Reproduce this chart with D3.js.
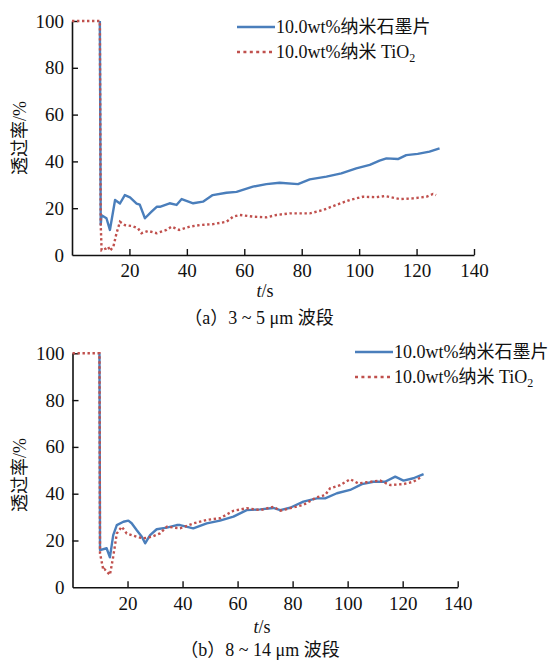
<!DOCTYPE html>
<html><head><meta charset="utf-8">
<script src="https://cdn.jsdelivr.net/npm/d3@7"></script>
<style>body{margin:0;background:#fff}svg{display:block}</style>
</head><body>
<script>
// ---- data ----
const xTicks = [20, 40, 60, 80, 100, 120, 140];
const yTicks = [0, 20, 40, 60, 80, 100];
const seriesNames = ["10.0wt%纳米石墨片", "10.0wt%纳米 TiO"];
const captions = ["（a）3 ~ 5 μm 波段", "（b）8 ~ 14 μm 波段"];

const aGraphT = [9.7,10.0,10.3,12,13.2,15,16.7,18.4,20.2,22.5,23.6,25.4,27.7,29.5,30.6,34,36.4,38.2,42.2,45.6,49,53.8,57.3,63,67.7,72.3,78.7,82.8,88.6,93.8,99,103.7,107.1,109.5,113.5,116.4,120.4,124.5,128];
const aGraphV = [100,13,17,15.7,10.7,23.5,22,25.6,24.6,22,21.5,15.7,18.5,20.6,20.6,22.1,21.4,23.9,22.1,22.8,25.6,26.6,27,29.2,30.3,30.9,30.3,32.3,33.5,34.9,37,38.5,40.3,41.3,41,42.7,43.2,44.2,45.6];
const aTiT = [0,9.7,10.0,10.3,11.9,12.6,13.2,14.4,15.5,16.7,18.4,20.8,23,24.2,26.5,29.5,32.9,34.7,37.3,41,44.5,49.2,53.8,56.1,58.4,63,67.7,71.2,75.8,82.8,87.4,92,96.7,101.3,106,108.9,114.1,118.7,123.4,125.7,126.8];
const aTiV = [100,100,13,2,2.8,3.5,1.8,3.5,9.3,14.2,12.8,12.4,11.4,9.3,10.3,9.3,10.7,12.1,10.7,12.1,12.8,13.2,14.2,16.4,17.1,16.4,16.1,17.1,17.8,17.8,19.2,21.4,23.5,24.9,24.7,25.2,23.9,24.2,24.9,26.1,25.6];
const bGraphT = [9.8,10,12.4,13.6,14.8,16.1,18.5,20.3,21.5,23.3,25.2,26.4,28.2,30.6,34.3,37.9,39.1,43.9,48.8,53.6,58.5,63.3,68.2,73,75.5,79.1,83.9,88.8,91.8,96.1,100.9,105.2,109.4,113.6,117.3,120.3,123.9,127.6];
const bGraphV = [100,15.9,16.7,12.8,22.3,26.6,28,28.5,27.4,24.5,21.6,18.8,22.3,24.8,25.5,26.6,26.6,25.2,27.3,28.5,30.2,33,33.3,33.9,33,34,36.6,38,38,40.2,41.6,44.1,45.1,45.1,47.3,45.6,46.6,48.4];
const bTiT = [0,9.8,10,11.2,11.6,13.6,14.8,16.1,17.9,19.7,23.3,25.7,28.8,31.8,34.3,39.1,43.9,48.8,53.6,58.5,63.3,68.2,73,75.5,79.1,83.9,88.8,91.8,93.6,97.3,100.9,103.9,107,111.8,115.5,120.3,123.9,127];
const bTiV = [100,100,14.5,7.4,7.8,5.3,13.1,23,25.9,23,21.6,20.9,21.6,23,25.9,25.2,27.3,28.8,29.5,32.7,33.8,33,34.4,32.7,33.8,35.2,38.5,39.4,42.3,43.7,46.2,44.4,44.9,45.6,43.7,44.1,45.1,47.3];

const W = 555, H = 661;
const BLUE = "#4a7ebb", RED = "#c0504d";
const svg = d3.select("body").append("svg").attr("width", W).attr("height", H);
const serif = "'Liberation Serif','Times New Roman',serif";
const cjk = "'Liberation Serif','Noto Sans CJK SC',serif";

const panels = [
  {x0:72, x1:474, yTop:21, yBot:255, g:[aGraphT,aGraphV], t:[aTiT,aTiV], leg:{x:237, y:27}, ylab:138, tlab:{x:265,y:297}, cap:{x:259,y:324}, caption:captions[0]},
  {x0:72.5, x1:457.7, yTop:353.3, yBot:587.3, g:[bGraphT,bGraphV], t:[bTiT,bTiV], leg:{x:355, y:352}, ylab:475, tlab:{x:262,y:633}, cap:{x:260,y:656}, caption:captions[1]}
];

panels.forEach(p => {
  const x = d3.scaleLinear().domain([0,140]).range([p.x0, p.x1]);
  const y = d3.scaleLinear().domain([0,100]).range([p.yBot, p.yTop]);
  const g = svg.append("g");

  const xa = g.append("g").attr("transform", `translate(0,${p.yBot})`)
    .call(d3.axisBottom(x).tickValues(xTicks).tickSizeInner(-6).tickSizeOuter(0).tickPadding(9));
  const ya = g.append("g").attr("transform", `translate(${p.x0},0)`)
    .call(d3.axisLeft(y).tickValues(yTicks).tickSizeInner(-6).tickSizeOuter(0).tickPadding(8));
  [xa, ya].forEach(a => {
    a.select(".domain").attr("stroke", "#111").attr("stroke-width", 1.6);
    a.selectAll(".tick line").attr("stroke", "#111").attr("stroke-width", 1.4);
    a.selectAll("text").attr("font-family", serif).attr("font-size", 19).attr("fill", "#111");
  });
  ya.selectAll(".tick").filter(d => d === 0).select("line").remove();

  const line = d3.line().x(d => x(d[0])).y(d => y(d[1]));
  const gd = p.g[0].map((t,i) => [t, p.g[1][i]]);
  const td = p.t[0].map((t,i) => [t, p.t[1][i]]);
  g.append("path").datum(gd).attr("d", line).attr("fill","none").attr("stroke", BLUE).attr("stroke-width", 2.4).attr("stroke-linejoin","round");
  g.append("path").datum(td).attr("d", line).attr("fill","none").attr("stroke", RED).attr("stroke-width", 2.4).attr("stroke-dasharray","2.4,2.6");

  // legend
  const L = g.append("g");
  L.append("line").attr("x1", p.leg.x).attr("x2", p.leg.x+38).attr("y1", p.leg.y).attr("y2", p.leg.y).attr("stroke", BLUE).attr("stroke-width", 2.6);
  L.append("line").attr("x1", p.leg.x).attr("x2", p.leg.x+38).attr("y1", p.leg.y+25).attr("y2", p.leg.y+25).attr("stroke", RED).attr("stroke-width", 2.6).attr("stroke-dasharray","3,3.4");
  L.append("text").attr("x", p.leg.x+39).attr("y", p.leg.y+6).attr("font-family", cjk).attr("font-size", 18).attr("fill","#111").text(seriesNames[0]);
  const t2 = L.append("text").attr("x", p.leg.x+39).attr("y", p.leg.y+31).attr("font-family", cjk).attr("font-size", 18).attr("fill","#111");
  t2.append("tspan").text(seriesNames[1]);
  t2.append("tspan").attr("font-size", 12).attr("dy", 4).text("2");

  // y label
  g.append("text").attr("transform", `translate(26,${p.ylab}) rotate(-90)`).attr("text-anchor","middle")
    .attr("font-family", cjk).attr("font-size", 18).attr("fill","#111").text("透过率/%");
  // x label
  const xl = g.append("text").attr("x", p.tlab.x).attr("y", p.tlab.y).attr("text-anchor","middle").attr("font-family", serif).attr("font-size", 18).attr("fill","#111");
  xl.append("tspan").attr("font-style","italic").text("t");
  xl.append("tspan").text("/s");
  // caption
  g.append("text").attr("x", p.cap.x).attr("y", p.cap.y).attr("text-anchor","middle").attr("font-family", cjk).attr("font-size", 18).attr("fill","#111").text(p.caption);
});
</script>
</body></html>
